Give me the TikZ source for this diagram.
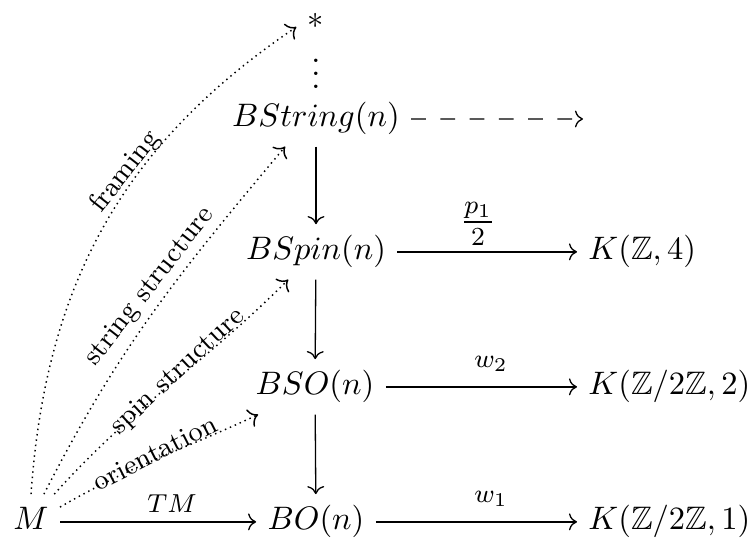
\documentclass[tikz,border=0pt]{standalone}
\usepackage{amssymb}
\usepackage{amsmath}
\usetikzlibrary{cd}
\begin{document}
\begin{tikzpicture}[x=0.3077pt,y=0.3077pt,
  obj/.style={inner sep=0.333em, text height=7.5pt, text depth=2.5pt},
  lab/.style={font=\fontsize{8.5}{10}\selectfont, inner sep=1pt},
  arr/.style={-cm to, line width=0.4pt},
  dotarr/.style={-cm to, line width=0.45pt, dash pattern=on 0.45pt off 1.2pt},
  dasharr/.style={-cm to, line width=0.4pt, dash pattern=on 4.5pt off 4.5pt},
  ]
\useasboundingbox (0,0) rectangle (750,538);
% objects
\node[inner sep=0.333em] (star) at (316,517) {$\ast$};
\node[inner sep=0pt, anchor=base] (dots) at (316,449) {$\vdots$};
\node[obj, anchor=base] (BString) at (316,411) {$BString(n)$};
\node[obj, anchor=base] (BSpin) at (316,278) {$BSpin(n)$};
\node[obj, anchor=base] (BSO) at (315,143) {$BSO(n)$};
\node[obj, anchor=base] (BO) at (316,8) {$BO(n)$};
\node[obj, anchor=base] (M) at (31,8) {$M$};
\node[obj, anchor=base west] (K4) at (577,278) {$K(\mathbb{Z},4)$};
\node[obj, anchor=base west] (K2) at (577,143) {$K(\mathbb{Z}/2\mathbb{Z},2)$};
\node[obj, anchor=base west] (K1) at (577,8) {$K(\mathbb{Z}/2\mathbb{Z},1)$};
\coordinate (E) at (583,419);
% vertical arrows
\draw[arr] (BString) -- (BSpin);
\draw[arr] (BSpin) -- (BSO);
\draw[arr] (BSO) -- (BO);
% horizontal arrows
\draw[dasharr] (BString) -- (E);
\draw[arr] (BSpin) -- (K4);
\draw[arr] (BSO) -- (K2);
\draw[arr] (BO) -- (K1);
\draw[arr] (M) -- (BO);
% labels of straight arrows
\node[lab, anchor=base] (lTM) at (172,25) {$TM$};
\node[lab, anchor=base] (lw1) at (491,35) {$w_1$};
\node[lab, anchor=base] (lw2) at (491,170) {$w_2$};
\node[font=\fontsize{11.5}{13}\selectfont, inner sep=1pt, anchor=base] (lp) at (478,306) {$\genfrac{}{}{0.7pt}{1}{p_1}{2}$};
% dotted curves
\draw[dotarr] (M.north) to[out=86, in=214] (star.197);
\draw[dotarr] (M.65) to[out=63, in=230] (BString.222);
\draw[dotarr] (M.50) to[out=48, in=225] (BSpin.225);
\draw[dotarr] (M.27) to[out=30, in=205] (BSO.206);
% curve labels
\node[lab, rotate=52] (lframe) at (125,366) {framing};
\node[lab, rotate=52] (lstring) at (150,251) {string structure};
\node[lab, rotate=43] (lspin) at (178,166) {spin structure};
\node[lab, rotate=27] (lorient) at (155,85) {orientation};
\end{tikzpicture}
\end{document}
